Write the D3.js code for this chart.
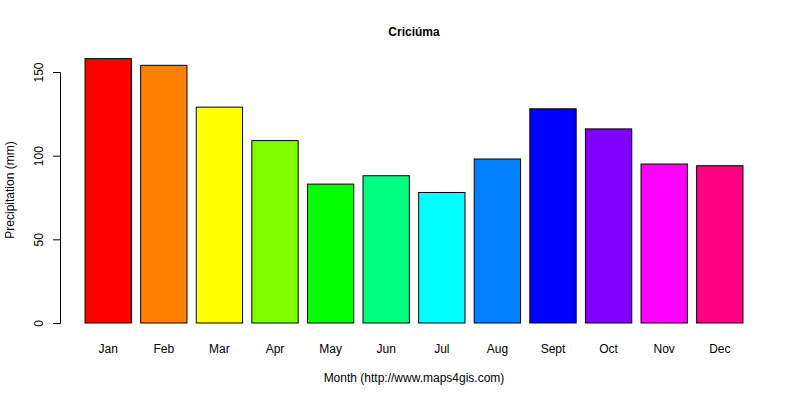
<!DOCTYPE html>
<html>
<head>
<meta charset="utf-8">
<script src="https://cdn.jsdelivr.net/npm/d3@7"></script>
<style>
  body { margin: 0; background: #fff; }
  text { font-family: "Liberation Sans", Arial, sans-serif; font-size: 12px; fill: #000; }
</style>
</head>
<body>
<div id="chart"></div>
<script>
// data
const months = ["Jan", "Feb", "Mar", "Apr", "May", "Jun", "Jul", "Aug", "Sept", "Oct", "Nov", "Dec"];
const precipitation = [158, 154, 129, 109, 83, 88, 78, 98, 128, 116, 95, 94];
const colors = ["#FF0000", "#FF8000", "#FFFF00", "#80FF00", "#00FF00", "#00FF80",
                "#00FFFF", "#0080FF", "#0000FF", "#8000FF", "#FF00FF", "#FF0080"];
const yTicks = [0, 50, 100, 150];

const width = 800, height = 400;

const svg = d3.select("#chart").append("svg")
    .attr("width", width)
    .attr("height", height);

// scales
const x = d3.scaleBand()
    .domain(months)
    .range([80.4, 747.6])
    .paddingInner(0.2 / 1.2)
    .paddingOuter(0.1 / 1.2);

const y = d3.scaleLinear()
    .domain([0, 150])
    .range([323, 72]);

// bars
svg.append("g").selectAll("rect")
    .data(months)
    .join("rect")
    .attr("x", d => x(d))
    .attr("y", (d, i) => y(precipitation[i]))
    .attr("width", x.bandwidth())
    .attr("height", (d, i) => y(0) - y(precipitation[i]))
    .attr("fill", (d, i) => colors[i])
    .attr("stroke", "#000")
    .attr("stroke-width", 1);

// y axis
const yAxis = svg.append("g")
    .attr("transform", "translate(60,0)")
    .call(d3.axisLeft(y).tickValues(yTicks).tickSize(7).tickPadding(10));
yAxis.select(".domain").attr("stroke", "#000");
yAxis.selectAll(".tick line").attr("stroke", "#000");
yAxis.selectAll(".tick text")
    .attr("font-size", 12)
    .attr("font-family", "Liberation Sans, Arial, sans-serif")
    .attr("transform", "rotate(-90)")
    .attr("x", 0)
    .attr("y", -17)
    .attr("text-anchor", "middle")
    .attr("dy", "0");

// month labels
svg.append("g").selectAll("text")
    .data(months)
    .join("text")
    .attr("x", d => x(d) + x.bandwidth() / 2)
    .attr("y", 353)
    .attr("text-anchor", "middle")
    .text(d => d);

// titles
svg.append("text")
    .attr("x", 414)
    .attr("y", 36)
    .attr("text-anchor", "middle")
    .attr("font-weight", "bold")
    .text("Criciúma");

svg.append("text")
    .attr("x", 414)
    .attr("y", 382)
    .attr("text-anchor", "middle")
    .text("Month (http://www.maps4gis.com)");

svg.append("text")
    .attr("transform", "translate(14,190) rotate(-90)")
    .attr("text-anchor", "middle")
    .text("Precipitation (mm)");
</script>
</body>
</html>
